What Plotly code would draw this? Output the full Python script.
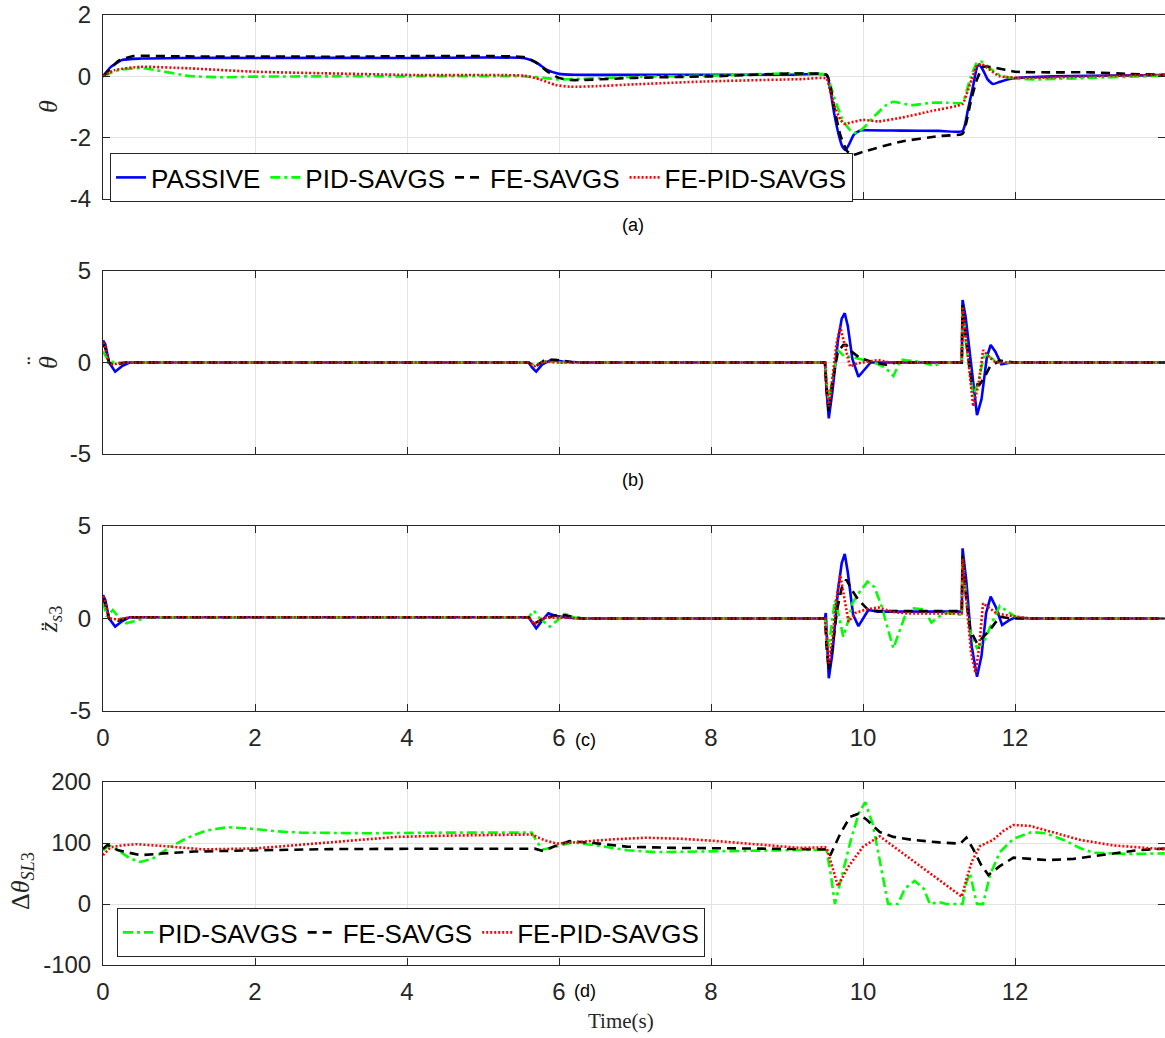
import plotly.graph_objects as go

# ---------------- series data (time in s) ----------------
# (a) pitch angle theta
A_PASSIVE_T = [0, 0.1, 0.25, 0.5, 1.0, 2.0, 4.0, 5.55, 5.7, 5.85, 6.0, 6.2, 7.0, 8.0, 9.0, 9.52, 9.56, 9.62, 9.68,
               9.73, 9.77, 9.82, 9.88, 9.95, 10.0, 10.5, 11.0, 11.31, 11.38, 11.45, 11.5, 11.53, 11.58, 11.64, 11.71,
               11.8, 11.9, 12.0, 12.5, 13.0, 13.97]
A_PASSIVE_Y = [0, 0.3, 0.53, 0.58, 0.6, 0.6, 0.6, 0.59, 0.45, 0.2, 0.08, 0.05, 0.05, 0.05, 0.05, 0.05, -0.3, -1.2,
               -1.9, -2.3, -2.4, -2.2, -1.9, -1.78, -1.76, -1.77, -1.78, -1.78, -1.1, -0.3, 0.3, 0.37, 0.2, -0.1,
               -0.25, -0.18, -0.1, -0.06, 0.0, 0.02, 0.04]

A_PID_T = [0, 0.2, 0.5, 0.7, 1.14, 1.58, 2.0, 3.0, 4.0, 5.55, 5.8, 6.0, 6.3, 7.0, 8.0, 9.52, 9.56, 9.65, 9.75, 9.85,
           9.92, 10.0, 10.15, 10.3, 10.4, 10.55, 10.65, 10.9, 11.1, 11.31, 11.36, 11.42, 11.5, 11.56, 11.65, 11.8,
           12.0, 12.3, 13.0, 13.97]
A_PID_Y = [0, 0.2, 0.27, 0.2, 0.01, -0.03, -0.01, 0.0, 0.0, 0.0, -0.05, -0.1, -0.08, -0.02, 0.02, 0.05, -0.2, -0.9,
           -1.5, -1.8, -1.86, -1.7, -1.3, -0.95, -0.83, -0.9, -0.94, -0.86, -0.86, -0.86, -0.5, 0.0, 0.45, 0.48, 0.3,
           0.04, -0.07, -0.1, -0.05, 0.02]

A_FE_T = [0, 0.1, 0.2, 0.4, 1.0, 3.0, 5.55, 5.7, 5.85, 6.0, 6.15, 6.3, 7.0, 8.0, 9.52, 9.56, 9.62, 9.7, 9.78, 9.85,
          10.0, 10.5, 11.0, 11.31, 11.36, 11.42, 11.5, 11.58, 11.7, 12.0, 12.5, 13.0, 13.5, 13.97]
A_FE_Y = [0, 0.25, 0.5, 0.66, 0.65, 0.64, 0.62, 0.45, 0.15, -0.05, -0.12, -0.12, -0.05, 0.0, 0.05, -0.2, -1.0, -1.9,
          -2.4, -2.57, -2.46, -2.13, -1.95, -1.87, -1.5, -0.8, -0.1, 0.31, 0.3, 0.15, 0.13, 0.13, 0.08, 0.05]

A_FEPID_T = [0, 0.15, 0.49, 1.14, 2.0, 2.9, 4.17, 5.55, 5.75, 5.95, 6.15, 6.5, 7.0, 7.9, 9.2, 9.52, 9.56, 9.63,
             9.7, 9.76, 9.85, 10.0, 10.2, 10.5, 10.9, 11.31, 11.36, 11.43, 11.5, 11.56, 11.65, 11.8, 12.2, 13.0,
             13.97]
A_FEPID_Y = [0, 0.2, 0.31, 0.26, 0.15, 0.1, 0.04, 0.02, -0.1, -0.28, -0.34, -0.32, -0.26, -0.17, -0.09, -0.07, -0.4,
             -1.0, -1.4, -1.55, -1.5, -1.42, -1.47, -1.35, -1.13, -0.9, -0.6, -0.1, 0.35, 0.4, 0.25, 0.0, -0.05,
             0.0, 0.05]

# (b) pitch acceleration
B_PASSIVE_T = [0, 0.03, 0.08, 0.16, 0.25, 0.35, 5.6, 5.65, 5.7, 5.78, 5.9, 6.05, 6.3, 9.5, 9.52, 9.55, 9.6, 9.67,
               9.72, 9.76, 9.8, 9.86, 9.94, 10.02, 10.1, 11.3, 11.31, 11.35, 11.42, 11.5, 11.56, 11.63, 11.68, 11.74,
               11.82, 11.95, 12.1, 13.97]
B_PASSIVE_Y = [1.2, 1.0, 0.0, -0.5, -0.2, 0.0, 0.0, -0.3, -0.5, -0.1, 0.15, 0.05, 0.0, 0.0, -1.5, -3.05, -1.5, 1.2,
               2.4, 2.69, 2.0, 0.2, -0.78, -0.4, 0.0, 0.0, 3.41, 2.5, 0.0, -2.87, -2.0, 0.3, 0.96, 0.6, -0.1, 0.0,
               0.0, 0.0]

B_PID_T = [0, 0.03, 0.08, 0.2, 5.6, 5.68, 5.8, 6.0, 9.5, 9.52, 9.55, 9.6, 9.67, 9.75, 9.85, 10.0, 10.15, 10.3, 10.4,
           10.5, 10.6, 10.75, 10.93, 11.05, 11.3, 11.31, 11.35, 11.45, 11.52, 11.6, 11.7, 11.8, 13.97]
B_PID_Y = [0.6, 0.4, 0.05, 0, 0, -0.15, 0.05, 0, 0, -1.0, -2.14, -0.8, 0.68, 0.35, 0.3, 0.15, 0.0, -0.3, -0.74,
           0.17, 0.1, 0.05, -0.19, 0.0, 0.0, 2.97, 1.2, -1.87, -1.0, 0.5, 0.2, 0.0, 0.0]

B_FE_T = [0, 0.03, 0.08, 0.14, 0.3, 5.6, 5.68, 5.8, 5.95, 6.2, 9.5, 9.52, 9.55, 9.6, 9.67, 9.74, 9.78, 9.85, 9.96,
          10.1, 10.3, 10.45, 11.3, 11.31, 11.35, 11.43, 11.53, 11.6, 11.67, 11.8, 12.0, 13.97]
B_FE_Y = [1.0, 0.8, 0.0, -0.15, 0, 0, -0.25, 0.1, 0.15, 0, 0, -1.5, -2.69, -1.0, 0.6, 0.95, 0.96, 0.6, 0.24, 0.05,
          -0.12, 0.0, 0.0, 3.14, 1.5, -1.14, -1.23, -0.8, -0.23, 0.1, 0.0, 0.0]

B_FEPID_T = [0, 0.03, 0.07, 0.12, 0.3, 5.6, 5.68, 5.8, 6.0, 9.5, 9.52, 9.55, 9.6, 9.65, 9.7, 9.76, 9.83, 9.92,
             10.05, 10.2, 10.35, 11.3, 11.31, 11.35, 11.45, 11.52, 11.58, 11.66, 11.75, 13.97]
B_FEPID_Y = [1.1, 0.9, 0.0, -0.1, 0, 0, -0.2, 0.05, 0, 0, -1.2, -2.4, -0.8, 1.0, 1.96, 1.0, -0.23, -0.05, 0.05,
             0.14, 0.0, 0.0, 3.05, 1.5, -2.4, -1.2, 0.68, 0.3, 0.0, 0.0]

# (c) sprung-mass acceleration at corner 3
C_PASSIVE_T = [0, 0.03, 0.08, 0.16, 0.25, 0.35, 5.6, 5.65, 5.7, 5.78, 5.86, 5.95, 6.1, 6.3, 9.5, 9.51, 9.53, 9.55,
               9.6, 9.67, 9.72, 9.76, 9.8, 9.87, 9.94, 10.0, 10.07, 10.2, 11.3, 11.31, 11.36, 11.43, 11.5, 11.56,
               11.62, 11.68, 11.75, 11.83, 11.92, 12.0, 12.2, 13.97]
C_PASSIVE_Y = [1.27, 1.0, 0.0, -0.44, -0.15, 0.07, 0.07, -0.2, -0.53, -0.1, 0.28, 0.15, 0.05, 0.0, 0.0, 0.3, -1.5,
               -3.23, -1.8, 1.5, 3.0, 3.49, 2.5, 0.2, -0.41, 0.0, 0.46, 0.37, 0.37, 3.79, 2.0, -1.5, -3.15, -2.0, 0.3,
               1.18, 0.6, -0.35, -0.1, 0.05, 0.0, 0.0]

C_PID_T = [0, 0.05, 0.13, 0.2, 0.31, 0.45, 0.6, 5.6, 5.67, 5.75, 5.88, 5.98, 6.08, 6.2, 6.35, 9.5, 9.52, 9.55, 9.59,
           9.63, 9.68, 9.74, 9.8, 9.86, 9.95, 10.06, 10.15, 10.25, 10.33, 10.4, 10.47, 10.55, 10.65, 10.8, 10.9,
           11.0, 11.1, 11.3, 11.31, 11.36, 11.42, 11.5, 11.6, 11.7, 11.8, 11.9, 12.0, 12.2, 13.97]
C_PID_Y = [0.9, 0.1, 0.46, 0.1, -0.26, -0.1, 0.07, 0.07, 0.42, 0.0, -0.44, -0.1, 0.24, 0.05, 0.0, 0.0, -0.8, -1.52,
           -0.3, 1.0, 0.2, -0.98, -0.2, 0.82, 1.4, 1.99, 1.7, 0.6, -0.6, -1.61, -0.8, 0.1, 0.55, 0.5, -0.22, 0.1,
           0.3, 0.2, 3.4, 1.0, -0.9, -1.6, -1.2, -0.2, 0.68, 0.4, 0.1, 0.0, 0.0]

C_FE_T = [0, 0.03, 0.08, 0.2, 0.35, 5.6, 5.68, 5.8, 6.01, 6.15, 6.3, 9.5, 9.52, 9.55, 9.6, 9.66, 9.72, 9.78, 9.86,
          9.94, 10.07, 10.2, 11.3, 11.31, 11.36, 11.41, 11.5, 11.58, 11.67, 11.8, 11.95, 13.97]
C_FE_Y = [1.1, 0.8, 0.0, -0.12, 0.07, 0.07, -0.26, 0.0, 0.23, 0.1, 0.0, 0.0, -1.5, -2.78, -1.5, 0.5, 1.65, 2.1,
          1.5, 1.0, 0.46, 0.4, 0.4, 3.43, 1.0, -0.62, -1.34, -1.0, -0.62, 0.1, 0.0, 0.0]

C_FEPID_T = [0, 0.03, 0.08, 0.2, 0.35, 5.6, 5.68, 5.8, 6.0, 6.3, 9.5, 9.52, 9.55, 9.6, 9.65, 9.7, 9.75, 9.81, 9.9,
             10.05, 10.2, 10.4, 10.6, 11.3, 11.31, 11.36, 11.42, 11.48, 11.53, 11.58, 11.65, 11.75, 11.85, 12.0,
             12.2, 13.97]
C_FEPID_Y = [1.2, 0.9, 0.0, -0.05, 0.07, 0.07, -0.3, 0.05, 0.05, 0.0, 0.0, -1.0, -2.42, -1.0, 1.0, 2.35, 1.2, -0.17,
             0.3, 0.5, 0.6, 0.35, 0.27, 0.27, 3.25, 1.0, -1.8, -2.96, -1.5, 0.82, 0.6, 0.3, 0.2, 0.1, 0.0, 0.0]

# (d) active suspension lever angle
D_PID_T = [0, 0.08, 0.2, 0.35, 0.49, 0.65, 0.88, 1.1, 1.35, 1.63, 1.9, 2.3, 2.6, 3.5, 4.5, 5.64, 5.72, 5.79, 5.9,
           6.18, 6.5, 6.9, 7.28, 7.8, 8.5, 9.52, 9.58, 9.63, 9.73, 9.85, 9.95, 10.03, 10.13, 10.25, 10.33, 10.46,
           10.55, 10.68, 10.8, 10.88, 11.0, 11.1, 11.31, 11.36, 11.41, 11.46, 11.5, 11.58, 11.67, 11.8, 11.98,
           12.22, 12.4, 12.64, 12.85, 13.03, 13.5, 13.97]
D_PID_Y = [88, 96, 88, 75, 69, 74, 93, 108, 120, 126, 124, 119, 117, 116, 117, 117, 100, 89.5, 92, 101, 96, 88, 85,
           86, 88, 89, 45, 0, 50, 110, 150, 167, 130, 55, 0, 0, 25, 38, 25, 0, 3, 0, 0, 35, 50, 20, 0, 0, 47, 85,
           107, 118, 116, 105, 92, 84, 82, 83]

D_FE_T = [0, 0.06, 0.2, 0.49, 0.8, 1.2, 2.0, 3.0, 4.0, 5.68, 5.79, 5.95, 6.14, 6.45, 6.89, 7.5, 8.5, 9.52, 9.57, 9.7,
          9.83, 9.94, 10.05, 10.22, 10.4, 10.66, 11.0, 11.28, 11.36, 11.45, 11.55, 11.65, 11.8, 11.98, 12.2, 12.42,
          12.77, 13.0, 13.3, 13.6, 13.97]
D_FE_Y = [90, 97, 88, 80, 83, 86, 88, 90, 90.5, 90.7, 87, 95, 103, 100, 94, 92, 91, 89.5, 80, 115, 143, 148, 138,
          118, 110, 105, 101, 99, 109, 90, 65, 47.5, 62, 76, 74, 72, 74, 78, 84, 88, 91]

D_FEPID_T = [0, 0.1, 0.25, 0.44, 0.8, 1.32, 2.0, 2.6, 3.2, 3.86, 4.5, 5.64, 5.8, 5.97, 6.3, 6.7, 7.15, 7.6, 8.03,
             8.6, 9.17, 9.52, 9.6, 9.67, 9.8, 10.0, 10.22, 10.5, 10.8, 11.0, 11.3, 11.36, 11.43, 11.54, 11.71, 11.85,
             11.98, 12.2, 12.5, 12.86, 13.3, 13.97]
D_FEPID_Y = [80, 93, 96, 98, 95, 89.5, 91, 97, 104, 110, 112, 114, 105, 99, 102, 106, 108.6, 107, 103.6, 98, 92, 93,
             60, 29.5, 60, 94, 111, 85, 58, 40, 12, 40, 69, 95, 105, 120, 129.5, 128, 118, 105, 96, 89.6]

LEGEND_NAMES = ["PASSIVE", "PID-SAVGS", "FE-SAVGS", "FE-PID-SAVGS"]
PANEL_LABELS = ["(a)", "(b)", "(c)", "(d)"]
X_TICKS = [0, 2, 4, 6, 8, 10, 12]
Y_TICKS = [[-4, -2, 0, 2], [-5, 0, 5], [-5, 0, 5], [-100, 0, 100, 200]]
Y_RANGES = [[-4, 2], [-5, 5], [-5, 5], [-100, 200]]

# ---------------- layout geometry ----------------
W, H = 1165, 1038
LEFT = 103
XMAX = (W - LEFT) / 76.0          # 76 px per second
PANEL_PX = [(15, 199), (271, 454), (526, 711), (782, 965)]   # top/bottom in px


def py(p):
    return 1 - p / H


def px(p):
    return (p - LEFT) / (W - LEFT)


STYLES = {
    "PASSIVE": dict(color="#0000ff", dash="solid"),
    "PID-SAVGS": dict(color="#00ff00", dash="10px,4px,3px,4px"),
    "FE-SAVGS": dict(color="#000000", dash="9px,6px"),
    "FE-PID-SAVGS": dict(color="#ff0000", dash="2px,2px"),
}

AXIS_COLOR = "#262626"
GRID_COLOR = "#e3e3e3"
FONT = "Liberation Sans, Arial, sans-serif"
SERIF = "Liberation Serif, DejaVu Serif, serif"

fig = go.Figure()

panels = [
    [("PASSIVE", A_PASSIVE_T, A_PASSIVE_Y), ("PID-SAVGS", A_PID_T, A_PID_Y),
     ("FE-SAVGS", A_FE_T, A_FE_Y), ("FE-PID-SAVGS", A_FEPID_T, A_FEPID_Y)],
    [("PASSIVE", B_PASSIVE_T, B_PASSIVE_Y), ("PID-SAVGS", B_PID_T, B_PID_Y),
     ("FE-SAVGS", B_FE_T, B_FE_Y), ("FE-PID-SAVGS", B_FEPID_T, B_FEPID_Y)],
    [("PASSIVE", C_PASSIVE_T, C_PASSIVE_Y), ("PID-SAVGS", C_PID_T, C_PID_Y),
     ("FE-SAVGS", C_FE_T, C_FE_Y), ("FE-PID-SAVGS", C_FEPID_T, C_FEPID_Y)],
    [("PID-SAVGS", D_PID_T, D_PID_Y), ("FE-SAVGS", D_FE_T, D_FE_Y),
     ("FE-PID-SAVGS", D_FEPID_T, D_FEPID_Y)],
]

for i, series in enumerate(panels):
    ax = "" if i == 0 else str(i + 1)
    for name, t, y in series:
        st = STYLES[name]
        show = i in (0, 3)
        fig.add_trace(go.Scatter(
            x=t, y=y, mode="lines", name=name,
            line=dict(color=st["color"], dash=st["dash"], width=2.6,
                      shape="spline" if i == 0 else "linear", smoothing=0.5),
            xaxis="x" + ax, yaxis="y" + ax,
            showlegend=show,
            legend="legend" if i == 0 else "legend2",
        ))

layout = dict(
    template="none",
    width=W, height=H,
    margin=dict(l=LEFT, r=0, t=0, b=0, pad=0, autoexpand=False),
    paper_bgcolor="white", plot_bgcolor="white",
    font=dict(family=FONT, color=AXIS_COLOR, size=24),
    showlegend=True,
)

for i in range(4):
    ax = "" if i == 0 else str(i + 1)
    top, bot = PANEL_PX[i]
    common = dict(
        ticks="inside", ticklen=7, tickwidth=1, tickcolor=AXIS_COLOR,
        showline=True, linecolor=AXIS_COLOR, linewidth=1, mirror="ticks",
        showgrid=True, gridcolor=GRID_COLOR, gridwidth=1, zeroline=False,
        tickfont=dict(size=24, color=AXIS_COLOR, family=FONT),
        automargin=False,
    )
    layout["xaxis" + ax] = dict(
        domain=[0, 1], anchor="y" + ax, range=[0, XMAX],
        tickvals=X_TICKS, ticktext=[str(v) for v in X_TICKS], showticklabels=i >= 2,
        ticklabelstandoff=5, **common,
    )
    layout["yaxis" + ax] = dict(
        domain=[py(bot), py(top)], anchor="x" + ax, range=Y_RANGES[i],
        tickvals=Y_TICKS[i], ticktext=[str(v) for v in Y_TICKS[i]],
        ticklabelstandoff=6, **common,
    )

legend_common = dict(
    orientation="h", xanchor="left", yanchor="top",
    bgcolor="white", bordercolor=AXIS_COLOR, borderwidth=1,
    font=dict(family=FONT, size=26, color="#000000"),
    tracegroupgap=0, itemwidth=30,
)
layout["legend"] = dict(x=px(110), y=py(153), **legend_common)
layout["legend2"] = dict(x=px(117), y=py(908), **legend_common)

annotations = []
label_pos = [(633, 225), (633, 480), (585, 740), (585, 991)]
for lab, (lx, ly) in zip(PANEL_LABELS, label_pos):
    annotations.append(dict(text=lab, x=px(lx), y=py(ly), xref="paper", yref="paper",
                            showarrow=False, xanchor="center", yanchor="middle",
                            font=dict(family=FONT, size=18, color="#000000")))

ylabels = [
    ("<i>θ</i>", 49, 107),
    ("<i>θ</i>", 49, 363),
    ("¨", 36, 361),
    ("<i>z̈</i><sub><i>s</i>3</sub>", 50, 620),
    ("Δ<i>θ</i><sub><i>SL</i>3</sub>", 22, 881),
]
for txt, lx, ly in ylabels:
    annotations.append(dict(text=txt, x=px(lx), y=py(ly), xref="paper", yref="paper",
                            showarrow=False, xanchor="center", yanchor="middle", textangle=-90,
                            font=dict(family=SERIF, size=26, color=AXIS_COLOR)))

annotations.append(dict(text="Time(s)", x=px(621), y=py(1021), xref="paper", yref="paper",
                        showarrow=False, xanchor="center", yanchor="middle",
                        font=dict(family=SERIF, size=21, color=AXIS_COLOR)))

layout["annotations"] = annotations
fig.update_layout(**layout)

fig.write_html("out.html")
